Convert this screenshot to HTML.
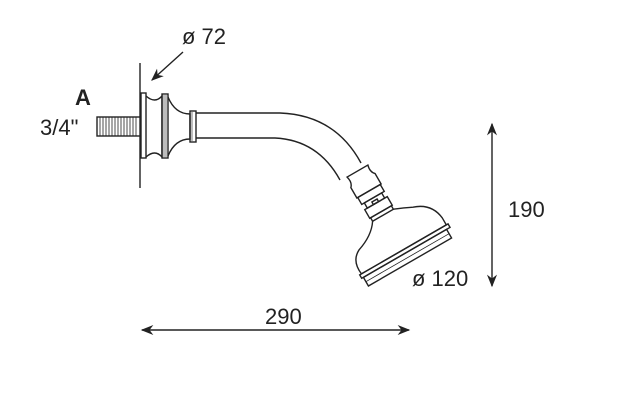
<!DOCTYPE html>
<html><head><style>body{margin:0;background:#fff}svg{display:block}text{font-family:"Liberation Sans",sans-serif;font-size:22px;fill:#222}</style></head><body>
<svg width="624" height="401" viewBox="0 0 624 401" xmlns="http://www.w3.org/2000/svg">
<defs><marker id="a" viewBox="0 0 10 10" refX="9" refY="5" markerWidth="9" markerHeight="9" orient="auto-start-reverse"><path d="M0,1 L10,5 L0,9 L3,5z" fill="#222"/></marker></defs>
<g fill="none" stroke="#222" stroke-width="1.4">
<line x1="140" y1="63" x2="140" y2="188"/>
<rect x="97" y="117" width="43" height="19" fill="#fff"/>
<g stroke-width="0.8"><path d="M100 117v19M103 117v19M106 117v19M109 117v19M112 117v19M115 117v19M118 117v19M121 117v19M124 117v19M127 117v19M130 117v19M133 117v19M136 117v19"/></g>
<rect x="141" y="93" width="5" height="65"/>
<path d="M146 96 Q155 104 162 96 L162 157 Q155 149 146 157"/>
<rect x="162" y="94" width="6" height="64"/>
<path d="M164 95v62M166 95v62" stroke-width="0.6"/>
<path d="M168 97 Q175 114 190 114 L190 139 Q175 139 168 156"/>
<rect x="190" y="111" width="6" height="31"/>
<path d="M192 112v29" stroke-width="0.6"/>
<path d="M196 113 L280 113 Q335 115 361 163"/>
<path d="M196 138 L275 138 Q318 140 340 180"/>
<g transform="translate(410,262) rotate(-30)">
<path d="M-12 -105 L12 -105 Q10 -98 14 -94 L14 -82 L-14 -82 L-14 -94 Q-10 -98 -12 -105z"/>
<rect x="-13" y="-82" width="26" height="8"/>
<rect x="-10" y="-74" width="20" height="6"/>
<rect x="-3" y="-71" width="6" height="3"/>
<rect x="-13" y="-68" width="26" height="10"/>
<path d="M-12 -58 L12 -58 L12 -54 L-12 -54z"/>
<path d="M12 -54 Q22 -50 30 -46 Q48 -40 50 -22 L50 -14 L-48 -14 Q-50 -30 -38 -36 Q-20 -42 -12 -54"/>
<path d="M-50 -14 L52 -14 L52 -10 L-50 -10z"/>
<path d="M-48 -10 L48 -10 L48 0 L-48 0z"/>
<path d="M-48 -5 L48 -5" stroke-width="0.8"/>
</g>
<line x1="183" y1="52" x2="152" y2="80" marker-end="url(#a)"/>
<line x1="492" y1="124" x2="492" y2="286" marker-start="url(#a)" marker-end="url(#a)"/>
<line x1="142" y1="330" x2="409" y2="330" marker-start="url(#a)" marker-end="url(#a)"/>
</g>
<text x="182" y="44">ø 72</text>
<text x="75" y="105" style="font-weight:bold">A</text>
<text x="40" y="135">3/4"</text>
<text x="508" y="217">190</text>
<text x="265" y="324">290</text>
<text x="412" y="286">ø 120</text>
</svg>
</body></html>
